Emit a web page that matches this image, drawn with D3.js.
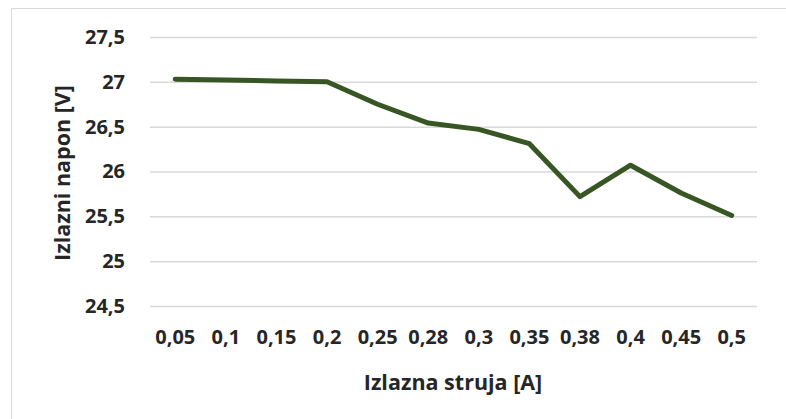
<!DOCTYPE html>
<html>
<head>
<meta charset="utf-8">
<script src="https://cdn.jsdelivr.net/npm/d3@7"></script>
<style>
  body { margin: 0; background: #fff; }
  svg text { font-family: "Open Sans", "DejaVu Sans", sans-serif; font-weight: bold; fill: #262626; }
</style>
</head>
<body>
<svg id="chart" width="786" height="419"></svg>
<script>
'use strict';

// izlazna struja [A] (kategorije) i izlazni napon [V]
var categories = ["0,05", "0,1", "0,15", "0,2", "0,25", "0,28", "0,3", "0,35", "0,38", "0,4", "0,45", "0,5"];
var voltage = [27.03, 27.02, 27.01, 27.0, 26.75, 26.54, 26.47, 26.31, 25.72, 26.07, 25.76, 25.51];
var yTicks = [24.5, 25, 25.5, 26, 26.5, 27, 27.5];

var svg = d3.select("#chart");
var margin = { left: 150, right: 29, top: 37, bottom: 113 };
var width = 786 - margin.left - margin.right;
var height = 419 - margin.top - margin.bottom;

// okvir
svg.append("rect")
    .attr("x", 11.5).attr("y", 8.5)
    .attr("width", 800).attr("height", 440)
    .attr("fill", "none")
    .attr("stroke", "#d9d9d9")
    .attr("stroke-width", 1);

var g = svg.append("g")
    .attr("transform", "translate(" + margin.left + "," + margin.top + ")");

var x = d3.scaleBand().domain(categories).range([0, width]);
var y = d3.scaleLinear().domain([24.5, 27.5]).range([height, 0]);

function fmt(d) {
    return String(d).replace(".", ",");
}

// mreža + oznake y ose
var yAxis = d3.axisLeft(y)
    .tickValues(yTicks)
    .tickSize(-width)
    .tickPadding(25)
    .tickFormat(fmt);

var yg = g.append("g").call(yAxis);
yg.select(".domain").remove();
yg.selectAll(".tick line")
    .attr("stroke", "#d9d9d9")
    .attr("stroke-width", 1.5);
yg.selectAll(".tick text")
    .attr("font-size", 20);

// x osa (samo oznake)
var xAxis = d3.axisBottom(x).tickSize(0).tickPadding(24);
var xg = g.append("g")
    .attr("transform", "translate(0," + height + ")")
    .call(xAxis);
xg.select(".domain").remove();
xg.selectAll(".tick text")
    .attr("font-size", 20);

// linija
var line = d3.line()
    .x(function(d, i) { return x(categories[i]) + x.bandwidth() / 2; })
    .y(function(d) { return y(d); });

g.append("path")
    .datum(voltage)
    .attr("fill", "none")
    .attr("stroke", "#375623")
    .attr("stroke-width", 5)
    .attr("stroke-linejoin", "round")
    .attr("stroke-linecap", "round")
    .attr("d", line);

// naslovi osa
svg.append("text")
    .attr("x", 453)
    .attr("y", 390)
    .attr("text-anchor", "middle")
    .attr("font-size", 21.5)
    .text("Izlazna struja [A]");

svg.append("text")
    .attr("transform", "translate(70,173) rotate(-90)")
    .attr("text-anchor", "middle")
    .attr("font-size", 21.5)
    .text("Izlazni napon [V]");
</script>
</body>
</html>
